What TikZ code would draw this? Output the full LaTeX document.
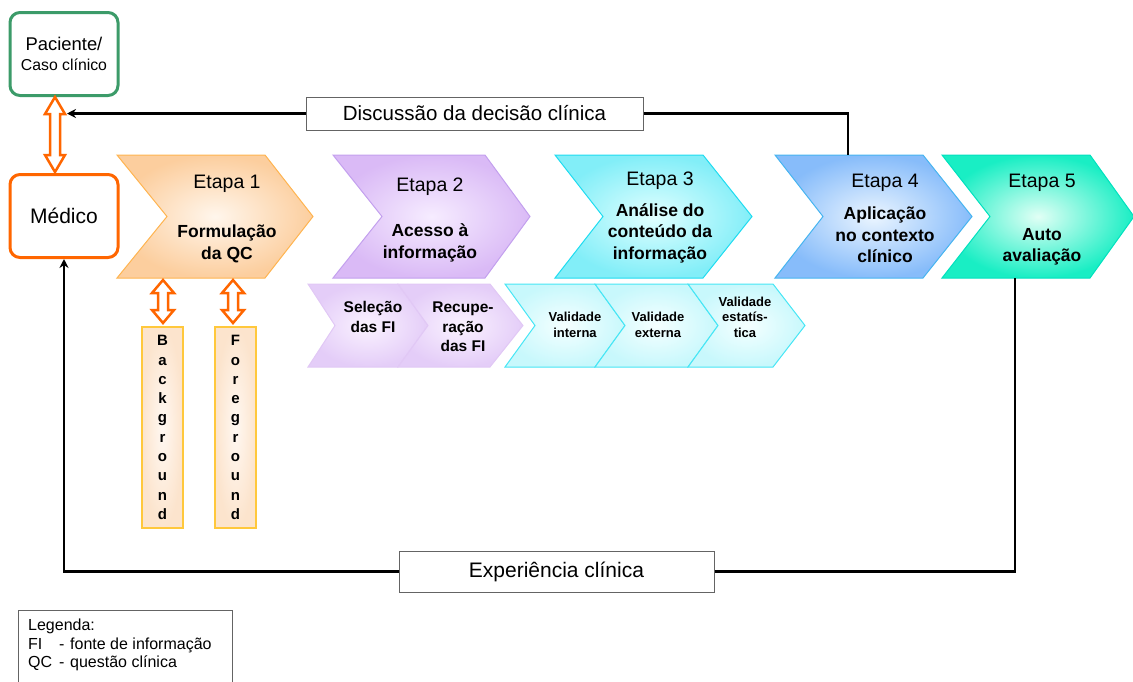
\documentclass[tikz,border=0pt]{standalone}
\usepackage{fontspec}
\setmainfont{Liberation Sans}
\usetikzlibrary{arrows.meta}
\definecolor{gbord}{RGB}{60,155,105}
\definecolor{orng}{RGB}{255,102,0}
\definecolor{boxgray}{RGB}{100,100,100}
\definecolor{eAin}{RGB}{255,246,236}\definecolor{eAout}{RGB}{252,206,158}\definecolor{eAd}{RGB}{255,180,80}
\definecolor{eBin}{RGB}{246,236,255}\definecolor{eBout}{RGB}{218,186,246}\definecolor{eBd}{RGB}{195,160,238}
\definecolor{eCin}{RGB}{225,255,255}\definecolor{eCout}{RGB}{130,238,248}\definecolor{eCd}{RGB}{30,220,240}
\definecolor{eDin}{RGB}{235,245,255}\definecolor{eDout}{RGB}{135,188,250}\definecolor{eDd}{RGB}{70,180,240}
\definecolor{eEin}{RGB}{225,255,245}\definecolor{eEout}{RGB}{25,238,196}\definecolor{eEd}{RGB}{0,225,190}
\definecolor{sPin}{RGB}{250,242,255}\definecolor{sPout}{RGB}{228,205,248}\definecolor{sPd}{RGB}{225,200,245}
\definecolor{sCin}{RGB}{245,255,255}\definecolor{sCout}{RGB}{200,248,252}\definecolor{sCd}{RGB}{70,230,245}
\definecolor{bgin}{RGB}{255,248,242}\definecolor{bgout}{RGB}{252,228,205}\definecolor{bgd}{RGB}{255,200,60}
\newcommand\mychev[7]{\shadedraw[#1] (#2,#6) -- (#4,#6) -- (#5,{(#6+#7)/2}) -- (#4,#7) -- (#2,#7) -- (#3,{(#6+#7)/2}) -- cycle;}
\newcommand\hollowdbl[6]{\draw[hollow] (#1,#2) -- ({#1+#4},{#2+#5}) -- ({#1+#6},{#2+#5}) -- ({#1+#6},{#3-#5}) -- ({#1+#4},{#3-#5}) -- (#1,#3) -- ({#1-#4},{#3-#5}) -- ({#1-#6},{#3-#5}) -- ({#1-#6},{#2+#5}) -- ({#1-#4},{#2+#5}) -- cycle;}
\tikzset{
  conn/.style={line width=2.5pt, black},
  tipped/.style={-{Stealth[length=9pt,width=9pt]}},
  lbox/.style={draw=boxgray, line width=1pt, fill=white, inner sep=0pt},
  rbox/.style={draw=#1, line width=3pt, rounded corners=10pt, fill=white, minimum width=108, minimum height=83, inner sep=0pt},
  stagelbl/.style={font=\fontsize{19.5}{23}\selectfont, anchor=base, inner sep=0pt},
  stagebold/.style={font=\fontsize{17.5}{21.5}\selectfont\bfseries, align=center, inner sep=0pt},
  subp/.style={font=\fontsize{15.5}{19.5}\selectfont\bfseries, align=center, inner sep=0pt},
  subc/.style={font=\fontsize{13}{15.5}\selectfont\bfseries, align=center, inner sep=0pt},
  hollow/.style={draw=orng, fill=white, line width=2.5pt, line join=miter},
  ea/.style={inner color=eAin, outer color=eAout, draw=eAd, line width=1pt},
  eb/.style={inner color=eBin, outer color=eBout, draw=eBd, line width=1pt},
  ec/.style={inner color=eCin, outer color=eCout, draw=eCd, line width=1pt},
  ed/.style={inner color=eDin, outer color=eDout, draw=eDd, line width=1pt},
  ee/.style={inner color=eEin, outer color=eEout, draw=eEd, line width=1pt},
  sp/.style={inner color=sPin, outer color=sPout, draw=sPd, line width=1pt},
  sc/.style={inner color=sCin, outer color=sCout, draw=sCd, line width=1pt},
  bgbox/.style={inner color=bgin, outer color=bgout, draw=bgd, line width=1.2pt, minimum width=41, minimum height=201, inner sep=0pt, font=\fontsize{15}{19.3}\selectfont\bfseries, align=center},
}
\begin{document}
\begin{tikzpicture}[x=1pt,y=-1pt]
\useasboundingbox (0,0) rectangle (1133,681);
% main stages
\mychev{ea}{117}{167}{265}{313}{155}{278}
\mychev{eb}{333}{382}{485}{530}{155}{278}
\mychev{ec}{555}{603}{703}{752}{155}{278}
\mychev{ed}{775}{823}{923}{972}{155}{278}
\mychev{ee}{942}{990}{1090}{1134}{155}{278}
% sub stages
\mychev{sp}{308}{335}{398}{428}{284}{367}
\mychev{sp}{398}{428}{490}{523}{284}{367}
\mychev{sc}{505}{535}{595}{625}{284}{367}
\mychev{sc}{595}{625}{688}{718}{284}{367}
\mychev{sc}{688}{718}{773}{805}{284}{367}
\coordinate (e4top) at (848,155);
\coordinate (e5bot) at (1015,278);
% stage labels
\node[stagelbl] (l1) at (227,188) {Etapa 1};
\node[stagelbl] (l2) at (430,191) {Etapa 2};
\node[stagelbl] (l3) at (660,185) {Etapa 3};
\node[stagelbl] (l4) at (885,187) {Etapa 4};
\node[stagelbl] (l5) at (1042,187) {Etapa 5};
\node[stagebold] (t1) at (227,244) {Formulação\\da QC};
\node[stagebold] (t2) at (430,243) {Acesso à\\informação};
\node[stagebold] (t3) at (660,233) {Análise do\\conteúdo da\\informação};
\node[stagebold] (t4) at (885,235) {Aplicação\\no contexto\\clínico};
\node[stagebold] (t5) at (1042,247) {Auto\\avaliação};
% sub labels
\node[subp] (s1) at (373,317) {Seleção\\das FI};
\node[subp] (s2) at (463,327) {Recupe-\\ração\\das FI};
\node[subc] (c1) at (575,325) {Validade\\interna};
\node[subc] (c2) at (658,325) {Validade\\externa};
\node[subc] (c3) at (745,317) {Validade\\estatís-\\tica};
% patient / doctor
\node[rbox=gbord, align=center, font=\fontsize{18.4}{20}\selectfont] (pac) at (64,54) {Paciente/\\{\fontsize{15.8}{20}\selectfont Caso clínico}};
\node[rbox=orng, font=\fontsize{21}{24}\selectfont] (med) at (64,216) {Médico};
\hollowdbl{55}{97}{172}{10}{17}{5}
% background / foreground
\node[bgbox] (bg) at (162.5,427.5) {B\\a\\c\\k\\g\\r\\o\\u\\n\\d};
\node[bgbox] (fg) at (235.5,427.5) {F\\o\\r\\e\\g\\r\\o\\u\\n\\d};
\hollowdbl{163}{280}{323}{11}{13}{5}
\hollowdbl{233}{280}{323}{11}{13}{5}
% feedback boxes
\node[lbox, minimum width=337, minimum height=33, font=\fontsize{20.5}{24}\selectfont] (disc) at (474.5,113.5) {Discussão da decisão clínica};
\node[lbox, minimum width=315, minimum height=41, font=\fontsize{21}{24}\selectfont] (exp) at (556.5,571.5) {Experiência clínica};
\coordinate (dtip) at (67,113.5);
\draw[conn] (disc.east) -| (e4top);
\draw[conn, tipped] (disc.west) -- (dtip);
\draw[conn] (exp.east) -| (e5bot);
\draw[conn, tipped] (exp.west) -| (med.south);
% legend
\draw[boxgray, line width=0.9pt] (18,610) rectangle (232,720);
\node[anchor=north west, inner sep=0pt, align=left, font=\fontsize{16}{18.5}\selectfont] (leg) at (28,619)
  {Legenda:\\\makebox[31pt][l]{FI}\makebox[11pt][l]{-}fonte de informação\\\makebox[31pt][l]{QC}\makebox[11pt][l]{-}questão clínica};
\end{tikzpicture}
\end{document}
